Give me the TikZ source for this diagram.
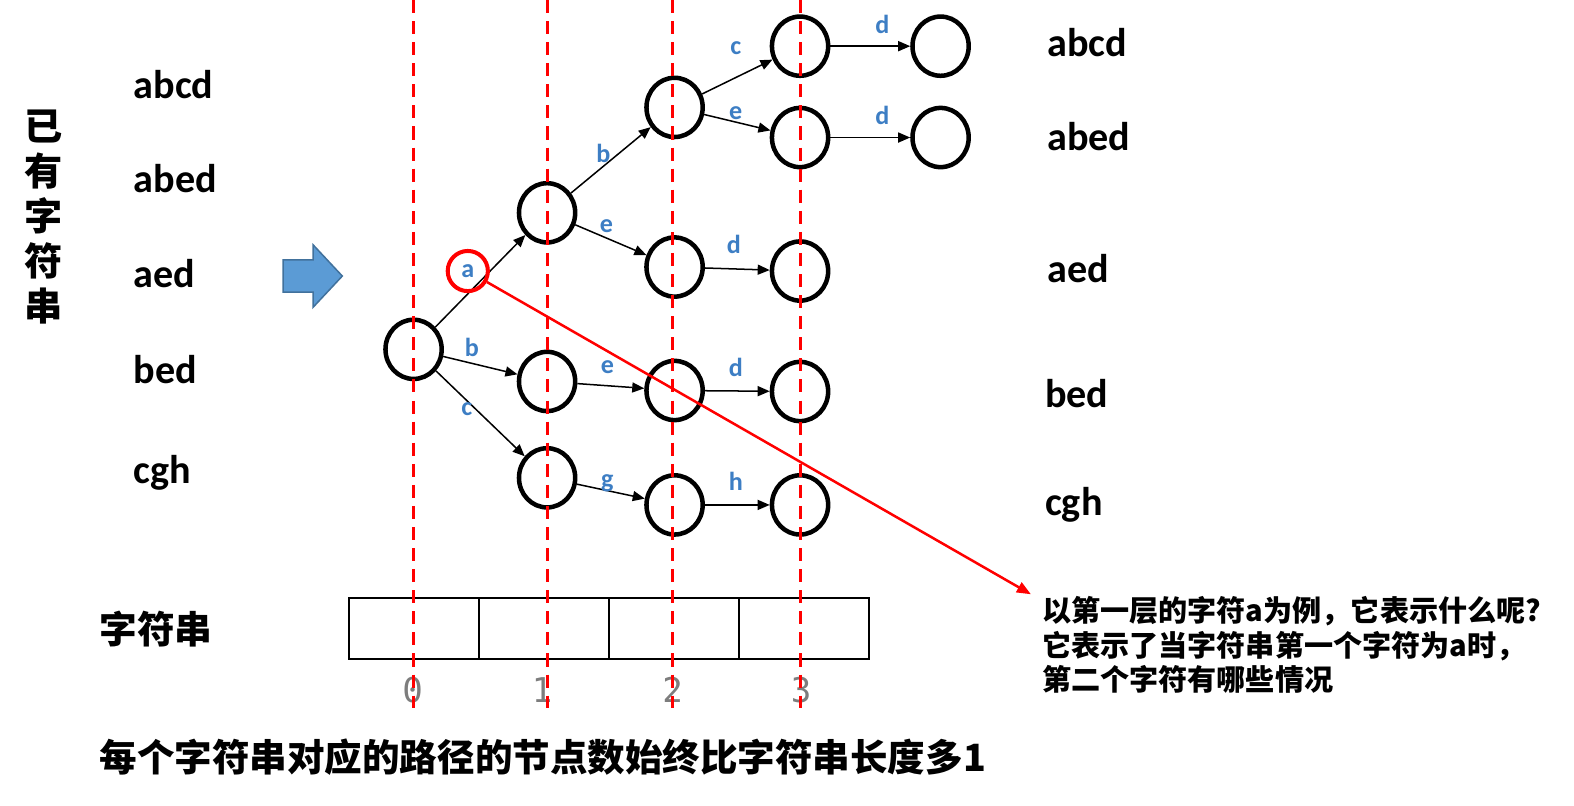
\documentclass[tikz,border=0pt]{standalone}
\usepackage{fontspec}
\setmainfont{Carlito}
\newfontfamily\cjk{Noto Sans CJK SC}
\newfontfamily\digitfont{DejaVu Sans Mono}
\usetikzlibrary{arrows.meta,shapes.geometric}
\definecolor{lblblue}{RGB}{61,126,196}
\definecolor{arrfill}{RGB}{91,155,213}
\definecolor{arrline}{RGB}{65,113,156}
\definecolor{idxgray}{RGB}{125,125,125}
\tikzset{
  trie/.style={draw, ellipse, line width=4.5pt, minimum width=56pt, minimum height=59pt, inner sep=0pt},
  edge/.style={-{Triangle[length=12pt,width=10pt]}, line width=1.5pt},
  lbl/.style={text=lblblue, font=\bfseries\fontsize{26}{26}\selectfont, inner sep=0pt},
  word/.style={font=\bfseries\fontsize{40}{40}\selectfont, anchor=west, inner sep=0pt},
  guide/.style={red, line width=3pt, dash pattern=on 13pt off 8pt},
  cell/.style={draw, line width=2pt, minimum width=129.5pt, minimum height=60pt, inner sep=0pt, anchor=west},
  idx/.style={text=idxgray, font=\digitfont\fontsize{34}{34}\selectfont, inner sep=0pt},
  pick/.style={draw=red, circle, line width=4pt, minimum size=40pt, inner sep=0pt, text=lblblue, font=\bfseries\fontsize{26}{26}\selectfont},
  pointer/.style={red, line width=2.5pt, -{Triangle[length=14pt,width=11pt]}}
}
\begin{document}
\begin{tikzpicture}[x=1pt, y=-1pt]
  \useasboundingbox (0,0) rectangle (1568,802);
  % existing strings
  \node[font=\cjk\bfseries\fontsize{38}{44.75}\selectfont, align=center, inner sep=0pt] (title) at (43,216) {已\\有\\字\\符\\串};
  \node[word] (w1) at (133,84) {abcd};
  \node[word] (w2) at (133,178) {abed};
  \node[word] (w3) at (133,273) {aed};
  \node[word] (w4) at (133,368) {bed};
  \node[word] (w5) at (133,471) {cgh};
  % block arrow
  \draw[fill=arrfill, draw=arrline, line width=1.5pt] (282,259) -- (312,259) -- (312,244) -- (341,275) -- (312,306) -- (312,291) -- (282,291) -- cycle;
  % trie nodes
  \node[trie] (r) at (412,348) {};
  \node[trie] (a) at (545,212) {};
  \node[trie] (b) at (545,380) {};
  \node[trie] (c) at (545,476) {};
  \node[trie] (ab) at (672,107) {};
  \node[trie] (ae) at (672,266) {};
  \node[trie] (be) at (672,389) {};
  \node[trie] (cg) at (672,503) {};
  \node[trie] (abc) at (797,46) {};
  \node[trie] (abe) at (797,137) {};
  \node[trie] (aed) at (797,270) {};
  \node[trie] (bed) at (797,390) {};
  \node[trie] (cgh) at (797,503) {};
  \node[trie] (abcd) at (937,46) {};
  \node[trie] (abed) at (937,137) {};
  % trie edges
  \draw[edge] (r) -- (a);
  \draw[edge] (r) -- (b);
  \draw[edge] (r) -- (c);
  \draw[edge] (a) -- (ab);
  \draw[edge] (a) -- (ae);
  \draw[edge] (ab) -- (abc);
  \draw[edge] (ab) -- (abe);
  \draw[edge] (abc) -- (abcd);
  \draw[edge] (abe) -- (abed);
  \draw[edge] (ae) -- (aed);
  \draw[edge] (b) -- (be);
  \draw[edge] (be) -- (bed);
  \draw[edge] (c) -- (cg);
  \draw[edge] (cg) -- (cgh);
  % edge letters
  \node[lbl] (lb1) at (470,346) {b};
  \node[lbl] (lc1) at (465,408) {c};
  \node[lbl] (lb2) at (601,153) {b};
  \node[lbl] (le2) at (604,225) {e};
  \node[lbl] (lc3) at (733,48) {c};
  \node[lbl] (le3) at (733,113) {e};
  \node[lbl] (ld4) at (879,24) {d};
  \node[lbl] (ld5) at (879,115) {d};
  \node[lbl] (ld3) at (731,244) {d};
  \node[lbl] (le4) at (605,366) {e};
  \node[lbl] (ld6) at (733,366) {d};
  \node[lbl] (lg) at (605,481) {g};
  \node[lbl] (lh) at (733,480) {h};
  % strings on the right
  \node[word] (v1) at (1043,42) {abcd};
  \node[word] (v2) at (1043,136) {abed};
  \node[word] (v3) at (1043,268) {aed};
  \node[word] (v4) at (1041,392) {bed};
  \node[word] (v5) at (1041,503) {cgh};
  % string array
  \node[font=\cjk\bfseries\fontsize{37.5}{37.5}\selectfont, anchor=west, inner sep=0pt] (arr) at (99,627) {字符串};
  \foreach \i in {0,...,3}
    \node[cell] (s\i) at (347+129.5*\i,626) {};
  \foreach \i/\x in {0/411,1/540,2/670,3/798}
    \node[idx] (i\i) at (\x,687) {\i};
  % depth guides
  \foreach \x in {412,545,670,797}
    \draw[guide] (\x,0) -- (\x,705);
  % first-level example
  \node[pick] (pk) at (466,270) {a};
  \coordinate (tip) at (1027,592);
  \draw[pointer] (pk) -- (tip);
  \node[font=\cjk\bfseries\fontsize{29}{34.5}\selectfont, align=left, anchor=north west, inner sep=0pt] (remark) at (1038,594) {以第一层的字符a为例，它表示什么呢?\\它表示了当字符串第一个字符为a时，\\第二个字符有哪些情况};
  \node[font=\cjk\bfseries\fontsize{37.4}{37.4}\selectfont, anchor=west, inner sep=0pt] (rule) at (99,754) {每个字符串对应的路径的节点数始终比字符串长度多1};
\end{tikzpicture}
\end{document}
